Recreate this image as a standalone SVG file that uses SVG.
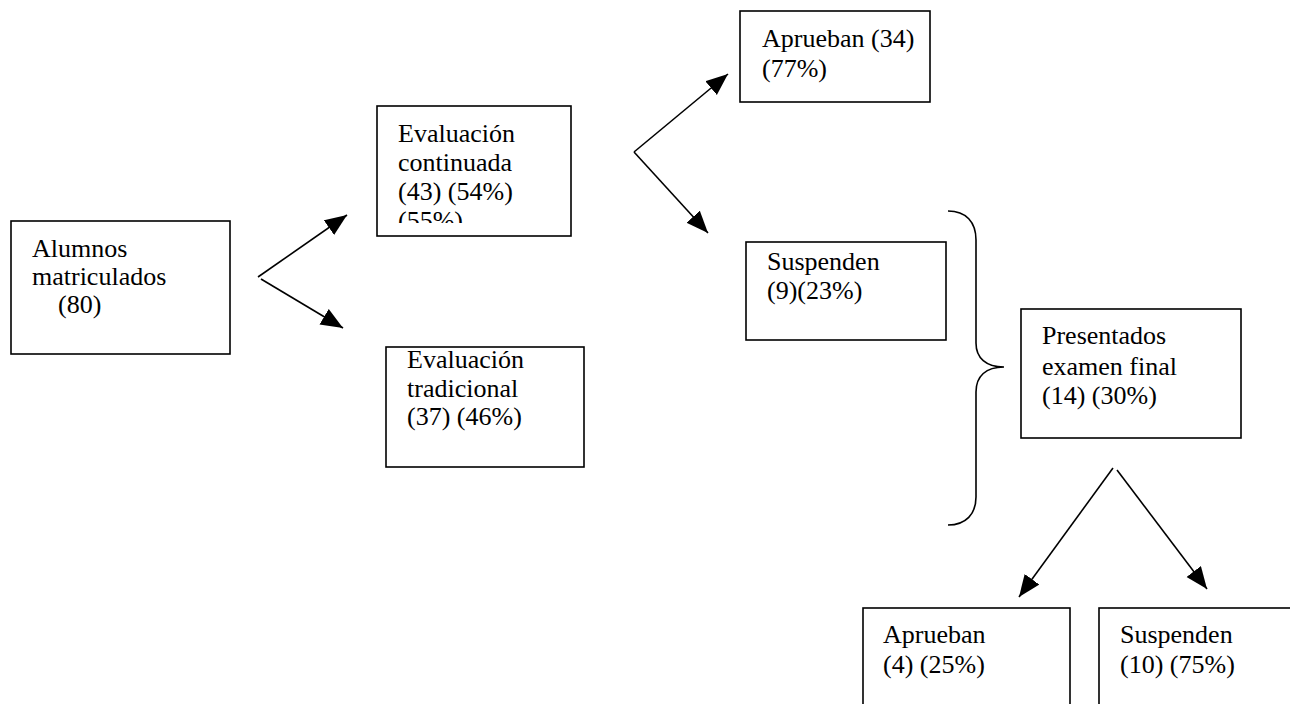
<svg xmlns="http://www.w3.org/2000/svg" width="1290" height="704" viewBox="0 0 1290 704">
<style>
.box{fill:#fff;stroke:#000;stroke-width:1.6}
.t{font-family:'Liberation Serif','Times New Roman','DejaVu Serif','Noto Serif',serif;font-size:26px;fill:#000}
.c{fill:none;stroke:#000;stroke-width:1.6}
</style>
<defs>
<marker id="ah" markerUnits="userSpaceOnUse" markerWidth="24" markerHeight="20" refX="22" refY="9" orient="auto">
<path d="M0,0 L22,9 L0,18 z" fill="#000"/>
</marker>
<clipPath id="clipEC"><rect x="377" y="106" width="194" height="117"/></clipPath>
</defs>
<rect width="1290" height="704" fill="#fff"/>
<g id="alumnos">
<rect class="box" x="11" y="221" width="219" height="133"/>
<text class="t" x="32" y="257">Alumnos</text>
<text class="t" x="32" y="285">matriculados</text>
<text class="t" x="58" y="313">(80)</text>
</g>
<g id="eval-continuada">
<rect class="box" x="377" y="106" width="194" height="130"/>
<g clip-path="url(#clipEC)">
<text class="t" x="398" y="142">Evaluación</text>
<text class="t" x="398" y="171">continuada</text>
<text class="t" x="398" y="200">(43) (54%)</text>
<text class="t" x="398" y="229">(55%)</text>
</g>
</g>
<g id="eval-tradicional">
<rect class="box" x="386" y="347" width="198" height="120"/>
<text class="t" x="407" y="368">Evaluación</text>
<text class="t" x="407" y="397">tradicional</text>
<text class="t" x="407" y="425">(37) (46%)</text>
</g>
<g id="aprueban-34">
<rect class="box" x="740" y="11" width="190" height="91"/>
<text class="t" x="762" y="47">Aprueban (34)</text>
<text class="t" x="762" y="77">(77%)</text>
</g>
<g id="suspenden-9">
<rect class="box" x="746" y="242" width="200" height="98"/>
<text class="t" x="767" y="270">Suspenden</text>
<text class="t" x="767" y="299">(9)(23%)</text>
</g>
<g id="presentados">
<rect class="box" x="1021" y="309" width="220" height="129"/>
<text class="t" x="1042" y="344">Presentados</text>
<text class="t" x="1042" y="375">examen final</text>
<text class="t" x="1042" y="404">(14) (30%)</text>
</g>
<g id="aprueban-4">
<rect class="box" x="863" y="608" width="207" height="110"/>
<text class="t" x="883" y="643">Aprueban</text>
<text class="t" x="883" y="673">(4) (25%)</text>
</g>
<g id="suspenden-10">
<rect class="box" x="1099" y="608" width="200" height="110"/>
<text class="t" x="1120" y="643">Suspenden</text>
<text class="t" x="1120" y="673">(10) (75%)</text>
</g>
<g id="connectors">
<line class="c" x1="258" y1="277" x2="347" y2="215" marker-end="url(#ah)"/>
<line class="c" x1="261" y1="279" x2="343" y2="328" marker-end="url(#ah)"/>
<line class="c" x1="634" y1="152" x2="728" y2="74" marker-end="url(#ah)"/>
<line class="c" x1="634" y1="152" x2="708" y2="233" marker-end="url(#ah)"/>
<line class="c" x1="1113" y1="468" x2="1019" y2="597" marker-end="url(#ah)"/>
<line class="c" x1="1117" y1="470" x2="1207" y2="589" marker-end="url(#ah)"/>
<path class="c" d="M948,211 C966,211 976,222 976,240 L976,343 C976,358 986,367 1004,367 C986,367 976,376 976,392 L976,497 C976,514 966,525 948,525"/>
</g>
</svg>
